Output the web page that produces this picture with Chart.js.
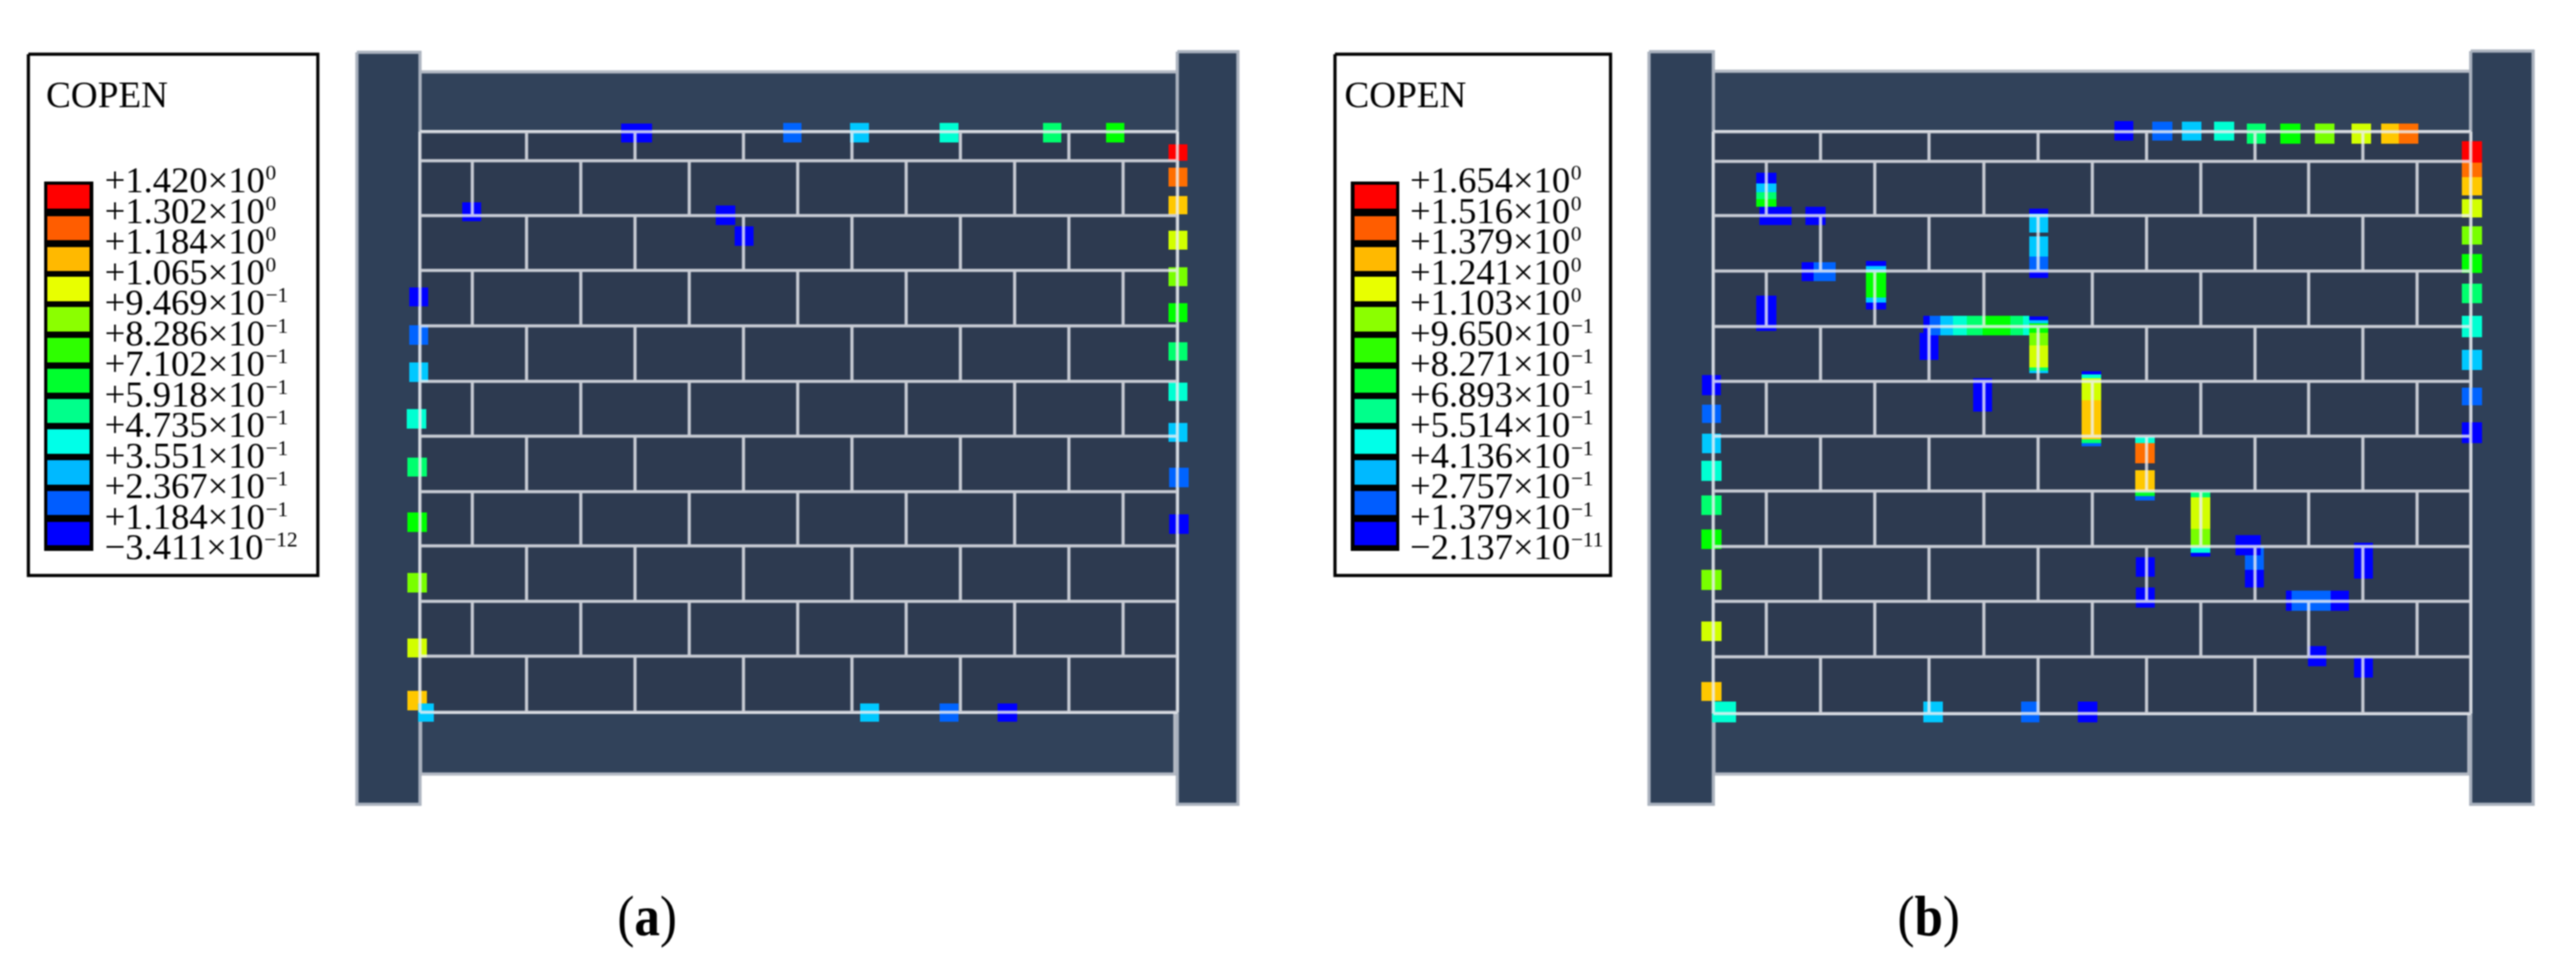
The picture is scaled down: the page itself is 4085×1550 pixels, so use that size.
<!DOCTYPE html>
<html><head><meta charset="utf-8">
<style>html,body{margin:0;padding:0;background:#fff}canvas{display:block;filter:blur(0.8px)}</style>
<script src="https://cdn.jsdelivr.net/npm/chart.js@4"></script>
</head><body><canvas id="c" width="4085" height="1550"></canvas>
<script>
// Contour bands, blue (0) to red (11)
const legendColors=['#0000ff','#005dff','#00b9ff','#00ffe8','#00ff8b','#00ff2e','#2eff00','#8bff00','#e8ff00','#ffb900','#ff5d00','#ff0000'];
const patchColors=['#0000ff','#0064ff','#00c8ff','#00ffd2','#00ff6e','#00ff28','#00ff00','#78ff00','#d2ff00','#ffc800','#ff6e00','#ff0000'];
const legendTitle='COPEN';
const labelsA=['+1.420×10','+1.302×10','+1.184×10','+1.065×10','+9.469×10','+8.286×10','+7.102×10','+5.918×10','+4.735×10','+3.551×10','+2.367×10','+1.184×10','−3.411×10'];
const expsA=['0','0','0','0','−1','−1','−1','−1','−1','−1','−1','−1','−12'];
const labelsB=['+1.654×10','+1.516×10','+1.379×10','+1.241×10','+1.103×10','+9.650×10','+8.271×10','+6.893×10','+5.514×10','+4.136×10','+2.757×10','+1.379×10','−2.137×10'];
const expsB=['0','0','0','0','0','−1','−1','−1','−1','−1','−1','−1','−11'];
const legendCellTops=[293,343,392,439,487,536,585,633,681,730,779,828];
const legendCellBottoms=[331,381,430,478,526,575,623,671,720,769,817,865];
// Mortar courses
const coursesA=[209,255,342,429,517,605,692,780,866,954,1041,1130];
const coursesB=[209,256,342,430,518,605,692,779,867,954,1042,1132];
const jointsOddA=[835,1007,1179,1351,1523,1695];
const jointsEvenA=[749,921,1093,1265,1437,1609,1781];
const jointsOddB=[2887,3059,3232,3404,3576,3747];
const jointsEvenB=[2801,2973,3146,3318,3490,3661,3833];
// Contact opening patches [x0,x1,y0,y1,band]
const patchesA=[
[985,1034,196,226,0],[1242,1271,195,226,1],[1348,1378,195,226,2],[1490,1520,195,226,3],[1654,1683,195,226,4],[1754,1783,195,226,6],
[1853,1883,229,255,11],[1853,1883,266,296,10],[1853,1883,311,340,9],[1853,1883,366,396,8],[1853,1883,424,454,7],[1853,1883,481,511,6],[1853,1883,543,572,4],[1853,1883,607,636,3],[1853,1883,671,701,2],[1854,1885,742,773,1],[1854,1885,816,847,0],
[733,763,321,351,0],[1135,1166,326,357,0],[1165,1195,359,390,0],
[649,679,456,486,0],[649,679,516,547,1],[649,679,575,606,2],[645,676,649,680,3],[646,677,726,756,4],[646,677,813,844,6],[646,677,909,940,7],[646,677,1013,1043,8],
[663,688,1116,1145,2],[646,677,1096,1127,9],[1364,1394,1116,1145,2],[1490,1520,1116,1145,1],[1582,1613,1116,1145,0]];
const patchesB=[
[3353,3383,192,223,0],[3413,3445,193,223,1],[3460,3491,193,223,2],[3511,3543,193,223,3],[3563,3593,196,228,4],[3616,3648,196,228,6],[3671,3702,196,228,7],[3729,3760,196,228,8],[3776,3804,196,228,9],[3804,3835,196,228,10],
[3904,3936,224,258,11],[3904,3936,258,281,10],[3904,3936,281,310,9],[3904,3936,316,345,8],[3904,3936,359,388,7],[3904,3936,403,433,6],[3904,3936,450,481,4],[3904,3936,501,535,3],[3904,3936,555,587,2],[3904,3936,615,643,1],[3904,3936,670,703,0],
[3218,3248,331,339,0],[3218,3248,339,369,2],[3218,3248,375,407,2],[3218,3248,407,430,1],[3218,3248,430,441,0],
[3050,3060,501,532,0],[3060,3077,501,532,1],[3077,3097,501,532,2],[3097,3119,501,532,3],[3119,3144,501,532,4],[3144,3188,501,532,6],[3188,3208,501,532,4],[3208,3218,501,532,3],
[3044,3074,528,571,0],
[3218,3248,502,508,0],[3218,3248,508,513,2],[3218,3248,513,528,6],[3218,3248,528,548,7],[3218,3248,548,583,8],[3218,3248,583,588,4],[3218,3248,588,592,2],
[3129,3159,600,653,0],
[3301,3332,589,594,0],[3301,3332,594,600,3],[3301,3332,600,635,8],[3301,3332,635,697,9],[3301,3332,697,703,4],[3301,3332,703,708,1],
[3386,3417,693,703,3],[3386,3417,703,735,10],[3386,3417,746,779,9],[3386,3417,779,787,5],[3386,3417,787,794,1],
[3474,3505,780,789,4],[3474,3505,789,839,8],[3474,3505,839,868,7],[3474,3505,868,877,3],[3474,3505,877,883,0],
[3545,3585,849,881,0],[3560,3590,866,904,1],[3560,3590,904,932,0],[3733,3763,861,918,0],
[3387,3417,884,915,0],[3387,3417,932,964,0],
[3625,3634,937,969,0],[3634,3696,937,969,1],[3696,3725,937,969,0],
[3660,3689,1025,1057,0],[3733,3763,1043,1075,0],
[2715,2753,1113,1146,3],[3050,3081,1113,1146,2],[3205,3234,1113,1146,1],[3295,3326,1113,1146,0],
[2698,2730,1082,1112,9],[2698,2730,986,1017,8],[2698,2730,904,936,7],[2698,2730,840,871,6],[2698,2730,786,817,4],[2698,2730,731,763,3],[2699,2729,688,719,2],[2699,2729,642,671,1],[2699,2729,595,627,0],
[2785,2817,274,291,0],[2785,2817,291,305,2],[2785,2817,305,316,4],[2785,2817,316,328,6],[2790,2841,328,357,0],[2863,2895,328,357,0],
[2857,2876,416,446,0],[2876,2911,416,446,1],
[2959,2991,414,422,0],[2959,2991,422,432,2],[2959,2991,432,472,6],[2959,2991,472,480,2],[2959,2991,480,491,0],
[2785,2817,469,525,0]];
// Panel extents [x0,x1,y0,y1]
const columnsA=[[566,666,83,1276],[1867,1963,82,1276]];
const columnsB=[[2615,2717,82,1276],[3918,4017,81,1276]];
const beamsA=[[666,1867,114,209],[667,1863,1130,1228]];
const beamsB=[[2717,3918,113,209],[2718,3915,1132,1228]];
const wallA=[666,1867,209,1130];
const wallB=[2717,3918,209,1132];
const legendBoxes=[[45,504,86,913],[2117,2554,86,913]];
const colorbars=[[70,148,288,874],[2142,2219,288,874]];
const cellSpans=[[75,142],[2148,2214]];
const labelX=[166,2236],titleX=[73,2132];
const captions=[['a',979],['b',3009]];

const rect=(r)=>[{x:r[0],y:r[2]},{x:r[1],y:r[2]},{x:r[1],y:r[3]},{x:r[0],y:r[3]},{x:r[0],y:r[2]}];
const base={type:'line',pointRadius:0,tension:0,borderWidth:0};
const ds=[];
const poly=(r,fillC,order,border,bw)=>ds.push({...base,data:rect(r),fill:'shape',backgroundColor:fillC,borderColor:border||fillC,borderWidth:bw||0,order});
[...columnsA,...columnsB].forEach(r=>poly(r,'#2f4058',90,'#aab2be',5));
[...beamsA,...beamsB].forEach(r=>poly(r,'#31425a',91,'#b4bac4',5));
[wallA,wallB].forEach(r=>poly(r,'#2d3a50',85));
[patchesA,patchesB].forEach(list=>list.forEach(p=>poly(p,patchColors[p[4]],50)));
function mortar(courses,odd,even,wall){
  const pts=[];const gap={x:null,y:null};
  courses.forEach(y=>pts.push({x:wall[0],y},{x:wall[1],y},gap));
  courses.slice(0,-1).forEach((y,i)=>{(i%2?even:odd).forEach(x=>pts.push({x,y},{x,y:courses[i+1]},gap));});
  pts.push({x:wall[0],y:wall[2]},{x:wall[0],y:wall[3]},gap,{x:wall[1],y:wall[2]},{x:wall[1],y:wall[3]});
  ds.push({...base,data:pts,borderColor:'rgba(238,240,244,0.8)',borderWidth:5,fill:false,order:10,spanGaps:false});
}
mortar(coursesA,jointsOddA,jointsEvenA,wallA);
mortar(coursesB,jointsOddB,jointsEvenB,wallB);
legendBoxes.forEach(r=>poly(r,'#ffffff',5,'#000000',5));
colorbars.forEach(r=>poly(r,'#000000',4));
cellSpans.forEach(s=>legendColors.slice().reverse().forEach((c,i)=>poly([s[0],s[1],legendCellTops[i],legendCellBottoms[i]],c,3)));

const textPlugin={id:'text',afterDraw(chart){
  const {ctx,scales:{x,y}}=chart;
  const serif='"Liberation Serif","Times New Roman",serif';
  ctx.save();ctx.fillStyle='#000';ctx.textBaseline='alphabetic';ctx.textAlign='left';
  const put=(t,px,py,f)=>{ctx.font=f;ctx.fillText(t,x.getPixelForValue(px),y.getPixelForValue(py));return ctx.measureText(t).width;};
  [[labelsA,expsA],[labelsB,expsB]].forEach(([ls,es],k)=>{
    put(legendTitle,titleX[k],170,'59px '+serif);
    ls.forEach((t,i)=>{
      const by=305+i*48.5;
      const w=put(t,labelX[k],by,'58px '+serif);
      put(es[i],labelX[k]+w+1,by-20,'34px '+serif);
    });
  });
  captions.forEach(([c,x0])=>{
    ctx.save();
    ctx.translate(x0,0);ctx.scale(0.9,1);
    let w=put('(',0,1484,'90px '+serif);
    const wc=put(c,w,1484,'bold 90px '+serif);
    put(')',w+wc,1484,'90px '+serif);
    ctx.restore();
  });
  ctx.restore();
}};
new Chart(document.getElementById('c'),{
  type:'line',
  data:{datasets:ds},
  plugins:[textPlugin],
  options:{responsive:false,animation:false,events:[],layout:{padding:0},
    plugins:{legend:{display:false},tooltip:{enabled:false},title:{display:false}},
    scales:{x:{type:'linear',display:false,min:0,max:4085},y:{type:'linear',display:false,reverse:true,min:0,max:1550}}}
});
</script></body></html>
